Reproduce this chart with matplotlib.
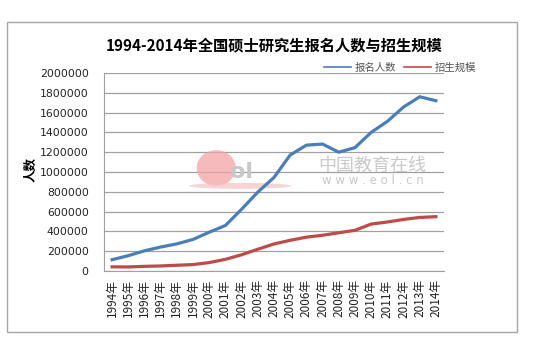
import matplotlib
matplotlib.use("Agg")
import matplotlib.pyplot as plt
from matplotlib.patches import Rectangle, Ellipse

plt.rcParams['font.family'] = ['Noto Sans CJK SC', 'DejaVu Sans']

years = [str(y) + '年' for y in range(1994, 2015)]
# 报名人数
applicants = [114000, 155000, 204000, 242000, 274000, 319000, 392000, 460000, 624000, 797000,
              945000, 1172000, 1271200, 1282000, 1200000, 1246000, 1400000, 1511000, 1656000, 1760000, 1720000]
# 招生规模
enrolled = [42000, 41000, 47000, 51000, 58000, 65000, 85000, 118000, 164000, 220000,
            273000, 310000, 342000, 361000, 386000, 411000, 474000, 495000, 521000, 541000, 548700]
yticks = [0, 200000, 400000, 600000, 800000, 1000000, 1200000, 1400000, 1600000, 1800000, 2000000]

W, H = 550, 355
fig = plt.figure(figsize=(5.5, 3.55), dpi=100)

# outer chart border
fig.patches.append(Rectangle((7 / W, 1 - 332 / H), 510 / W, 310 / H, transform=fig.transFigure,
                             fill=False, edgecolor='#a6a6a6', linewidth=1.0))

ax = fig.add_axes([104 / W, 1 - 271 / H, 340 / W, 198 / H])
x = list(range(len(years)))

# watermark (behind lines)
ax.add_patch(Ellipse((0.33, 0.52), 0.115, 0.18, transform=ax.transAxes, color='#f4a3a6', alpha=0.75, zorder=1, lw=0))
ax.add_patch(Ellipse((0.40, 0.43), 0.30, 0.03, transform=ax.transAxes, color='#f7c0c2', alpha=0.7, zorder=1, lw=0))
ax.text(0.37, 0.50, 'ol', transform=ax.transAxes, fontsize=16, color='#c8c8c8', fontweight='bold',
        ha='left', va='center', zorder=1, family='DejaVu Sans')
ax.text(0.79, 0.53, '中国教育在线', transform=ax.transAxes, fontsize=13, color='#c9c9c9',
        ha='center', va='center', zorder=1)
ax.text(0.79, 0.455, 'w w w . e o l . c n', transform=ax.transAxes, fontsize=8.5, color='#c9c9c9',
        ha='center', va='center', zorder=1, family='DejaVu Sans')

ax.plot(x, applicants, color='#4a7ebb', linewidth=2.3, label='报名人数', zorder=3)
ax.plot(x, enrolled, color='#be4b48', linewidth=2.3, label='招生规模', zorder=3)

ax.set_xlim(-0.5, len(years) - 0.5)
ax.set_ylim(0, 2000000)
ax.set_yticks(yticks)
ax.set_yticklabels([str(v) for v in yticks], fontsize=7.8, color='#222222', family='DejaVu Sans')
ax.set_xticks(x)
ax.set_xticklabels(years, rotation=90, fontsize=8.5, color='#222222')
ax.tick_params(axis='y', length=0, pad=11)
ax.tick_params(axis='x', length=0, pad=6)
ax.yaxis.grid(True, color='#a0a0a0', linewidth=0.9)
ax.set_axisbelow(True)
for s in ['top', 'right']:
    ax.spines[s].set_visible(False)
ax.spines['left'].set_color('#a0a0a0')
ax.spines['bottom'].set_color('#a0a0a0')

fig.text(31 / W, 1 - 170 / H, '人数', rotation=90, fontsize=9, fontweight='bold', ha='center', va='center')
fig.text(274 / W, 1 - 45 / H, '1994-2014年全国硕士研究生报名人数与招生规模', fontsize=11,
         fontweight='bold', ha='center', va='center')

fig.legend(loc='center', bbox_to_anchor=(400 / W, 1 - 68 / H), ncol=2, frameon=False, fontsize=7.5,
           handlelength=2.6, handletextpad=0.3, columnspacing=0.8, labelcolor='#555555')
for line in fig.legends[0].get_lines():
    line.set_linewidth(1.2)

fig.savefig('out.png', dpi=100)
